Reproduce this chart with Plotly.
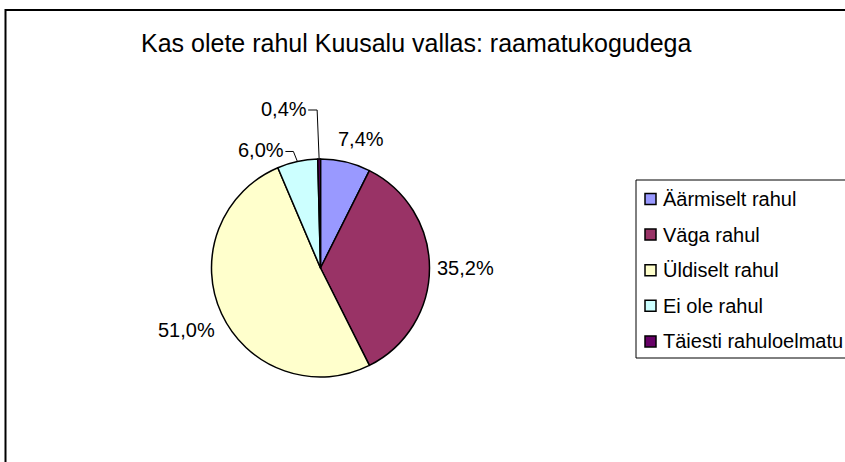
import math
import plotly.graph_objects as go

# ---- data ----
categories = ["Äärmiselt rahul", "Väga rahul", "Üldiselt rahul", "Ei ole rahul", "Täiesti rahuloelmatu"]
values = [7.4, 35.2, 51.0, 6.0, 0.4]
colors = ["#9999FF", "#993366", "#FFFFCC", "#CCFFFF", "#660066"]
title_text = "Kas olete rahul Kuusalu vallas: raamatukogudega"

# ---- layout constants (screen pixels) ----
W, H = 845, 462
FONT = "Liberation Sans, Arial, sans-serif"
PIE_CX, PIE_CY, PIE_R = 320.5, 268.0, 109.0
LABEL_FS = 20
LEGEND_FS = 20
TITLE_FS = 25
LABEL_GAP = 10
# leader-line style for small slices: (elbow dx, elbow dy, horizontal run)
leader_style = {"Ei ole rahul": (-4, -10, 8), "Täiesti rahuloelmatu": (-2, -49, 9)}
# small placement nudges for plain labels (dx, dy)
label_nudge = {"Äärmiselt rahul": (10, -1), "Väga rahul": (-2, 0)}


def px(x):
    return x / W


def py(y):
    return 1 - y / H


CHAR_W = {"0": .556, "1": .556, "2": .556, "3": .556, "4": .556, "5": .556,
          "6": .556, "7": .556, "8": .556, "9": .556, ",": .278, "%": .889}


def text_w(s, fs):
    return sum(CHAR_W.get(c, .556) for c in s) * fs


fig = go.Figure()
fig.add_trace(go.Pie(
    labels=categories, values=values, sort=False, direction="clockwise", rotation=0,
    marker=dict(colors=colors, line=dict(color="black", width=1.5)),
    textinfo="none", hoverinfo="label+percent", showlegend=False,
    domain=dict(x=[px(PIE_CX - PIE_R), px(PIE_CX + PIE_R)],
                y=[py(PIE_CY + PIE_R), py(PIE_CY - PIE_R)]),
))

shapes = []
annotations = []

# chart-area border
shapes.append(dict(type="rect", xref="paper", yref="paper", x0=px(5.5), x1=1.05,
                   y0=-0.05, y1=py(10), line=dict(color="black", width=2)))

# title
annotations.append(dict(text=title_text, x=px(416), y=py(43), xref="paper", yref="paper",
                        xanchor="center", yanchor="middle", showarrow=False,
                        font=dict(family=FONT, size=TITLE_FS, color="black")))

# data labels
total = sum(values)
cum = 0.0
for cat, v in zip(categories, values):
    mid = (cum + v / 2) / total * 2 * math.pi
    cum += v
    sx, sy = math.sin(mid), -math.cos(mid)
    lab = f"{v:.1f}".replace(".", ",") + "%"
    ex, ey = PIE_CX + PIE_R * sx, PIE_CY + PIE_R * sy
    if cat in leader_style:
        dx, dy, run = leader_style[cat]
        elx, ely = ex + dx, ey + dy
        endx = elx - run
        shapes.append(dict(type="path", xref="paper", yref="paper",
                           path=f"M{px(ex)},{py(ey)} L{px(elx)},{py(ely)} L{px(endx)},{py(ely)}",
                           line=dict(color="black", width=1)))
        annotations.append(dict(text=lab, x=px(endx + 1), y=py(ely - 1), xref="paper", yref="paper",
                                xanchor="right", yanchor="middle", showarrow=False,
                                font=dict(family=FONT, size=LABEL_FS, color="black")))
    else:
        w = text_w(lab, LABEL_FS)
        h = LABEL_FS * 0.8
        he = abs(sx) * w / 2 + abs(sy) * h / 2
        d = PIE_R + LABEL_GAP + he
        ndx, ndy = label_nudge.get(cat, (0, 0))
        cx, cy = PIE_CX + d * sx + ndx, PIE_CY + d * sy + ndy
        annotations.append(dict(text=lab, x=px(cx), y=py(cy), xref="paper", yref="paper",
                                xanchor="center", yanchor="middle", showarrow=False,
                                font=dict(family=FONT, size=LABEL_FS, color="black")))

# legend (box, swatches, text)
LEG_X0, LEG_Y0, LEG_Y1 = 636, 180, 358
ROW0, ROW_STEP, SW = 199, 35.6, 11
shapes.append(dict(type="rect", xref="paper", yref="paper", x0=px(LEG_X0), x1=1.05,
                   y0=py(LEG_Y1), y1=py(LEG_Y0), line=dict(color="black", width=1)))
for i, (cat, col) in enumerate(zip(categories, colors)):
    yc = ROW0 + i * ROW_STEP
    shapes.append(dict(type="rect", xref="paper", yref="paper",
                       x0=px(645), x1=px(645 + SW), y0=py(yc + SW / 2), y1=py(yc - SW / 2),
                       fillcolor=col, line=dict(color="black", width=1.5)))
    annotations.append(dict(text=cat, x=px(661), y=py(yc), xref="paper", yref="paper",
                            xanchor="left", yanchor="middle", showarrow=False,
                            font=dict(family=FONT, size=LEGEND_FS, color="black")))

fig.update_layout(
    width=W, height=H, margin=dict(l=0, r=0, t=0, b=0),
    paper_bgcolor="white", plot_bgcolor="white",
    shapes=shapes, annotations=annotations, showlegend=False,
)

fig.write_html("out.html", config={"displayModeBar": False},
               post_script="document.body.style.margin='0';")
